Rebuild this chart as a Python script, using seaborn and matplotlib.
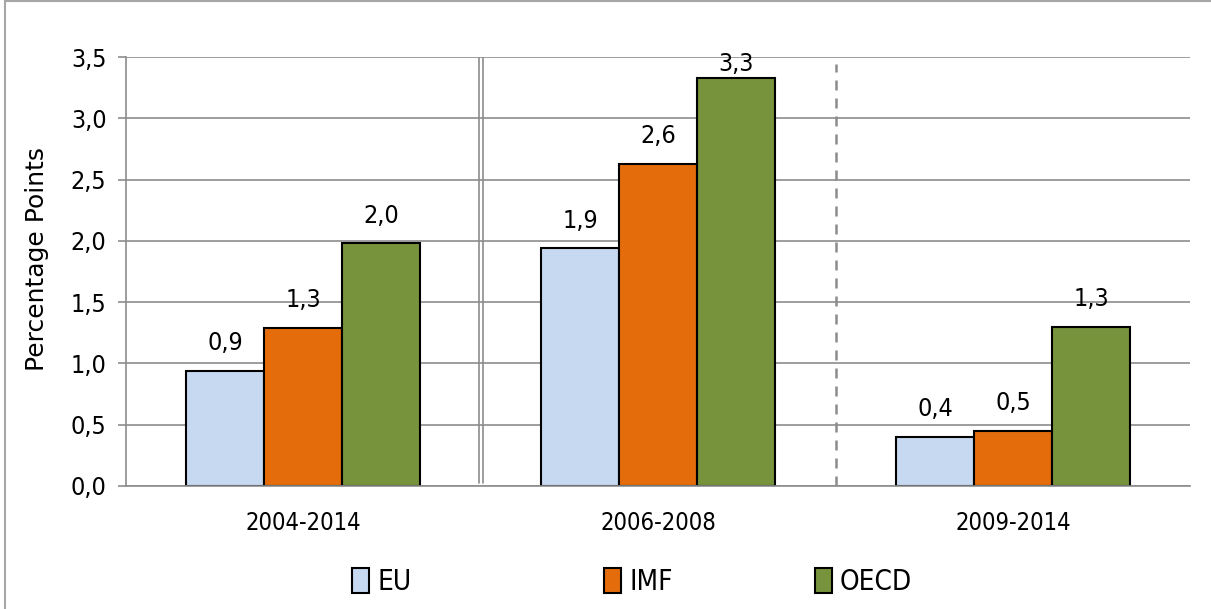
import matplotlib
matplotlib.use("Agg")
import matplotlib.pyplot as plt
import matplotlib.patches as mpatches
from matplotlib.font_manager import FontProperties
from matplotlib.lines import Line2D
import seaborn as sns
import pandas as pd

# данные с картинки
periods = ["2004-2014", "2006-2008", "2009-2014"]
sources = ["EU", "IMF", "OECD"]
eu_values = [0.94, 1.94, 0.40]
imf_values = [1.29, 2.63, 0.45]
oecd_values = [1.98, 3.33, 1.30]
eu_labels = ["0,9", "1,9", "0,4"]
imf_labels = ["1,3", "2,6", "0,5"]
oecd_labels = ["2,0", "3,3", "1,3"]
y_ticks = [0.0, 0.5, 1.0, 1.5, 2.0, 2.5, 3.0, 3.5]

colors = {"EU": "#C6D9F1", "IMF": "#E46C0A", "OECD": "#77933C"}
grid_color = "#8C8C8C"
legend_x = [352, 604, 815]  # левый край маркеров легенды, px

df = pd.DataFrame({
    "period": periods * 3,
    "source": [s for s in sources for _ in periods],
    "value": eu_values + imf_values + oecd_values,
})
bar_labels = {"EU": eu_labels, "IMF": imf_labels, "OECD": oecd_labels}

sns.set_theme(style="white")
plt.rcParams["font.family"] = ["DejaVu Sans"]
plt.rcParams["font.stretch"] = "condensed"
plt.rcParams["text.color"] = "black"
plt.rcParams["axes.labelcolor"] = "black"
plt.rcParams["xtick.labelcolor"] = "black"
plt.rcParams["ytick.labelcolor"] = "black"

W, H = 1211, 609
fig = plt.figure(figsize=(W / 100, H / 100), dpi=100)
ax = fig.add_axes([0.104, 0.202, 0.879, 0.704])

sns.barplot(data=df, x="period", y="value", hue="source", order=periods,
            hue_order=sources, palette=colors, width=0.66, saturation=1,
            edgecolor="black", linewidth=1.5, legend=False, ax=ax)

ax.set_xlim(-0.5, 2.5)
ax.set_ylim(0, 3.5)
ax.set_yticks(y_ticks)
ax.set_yticklabels([f"{t:.1f}".replace(".", ",") for t in y_ticks], fontsize=18)
ax.set_xticks([-0.5, 0.5, 1.5, 2.5], minor=True)
ax.tick_params(axis="x", which="major", length=0, pad=18, labelsize=17)
ax.tick_params(axis="x", which="minor", length=8, width=1.2, color=grid_color)
ax.tick_params(axis="y", length=6, width=1.2, color=grid_color, pad=8, left=True)
ax.set_xlabel("")

ax.yaxis.grid(True, color=grid_color, linewidth=1.2)
ax.set_axisbelow(True)
for side in ["top", "right"]:
    ax.spines[side].set_visible(False)
for side in ["left", "bottom"]:
    ax.spines[side].set_color(grid_color)
    ax.spines[side].set_linewidth(1.2)

# разделители групп
ax.axvline(0.494, ymin=0.008, ymax=1, color=grid_color, linewidth=1.2)
ax.axvline(0.507, ymin=0.008, ymax=1, color=grid_color, linewidth=1.2)
ax.axvline(1.5, ymin=0, ymax=0.985, color=grid_color, linewidth=1.8,
           linestyle=(0, (4, 3.2)))

# подписи над столбцами
for container, source in zip(ax.containers, sources):
    for bar, text in zip(container, bar_labels[source]):
        x = bar.get_x() + bar.get_width() / 2
        h = bar.get_height()
        ax.text(x, min(h + 0.17, 3.39), text, ha="center", va="baseline",
                fontsize=18)

ylabel_font = FontProperties(family="DejaVu Sans", stretch="normal", size=18)
ax.set_ylabel("Percentage Points", fontproperties=ylabel_font, color="black")
ax.yaxis.set_label_coords(-0.072, 0.53)

# легенда: по одной записи, чтобы расставить как в оригинале
for s, lx in zip(sources, legend_x):
    handle = mpatches.Patch(facecolor=colors[s], edgecolor="black", linewidth=1.5)
    fig.legend([handle], [s], loc="center left", bbox_to_anchor=(lx / W, 0.044),
               frameon=False, fontsize=20, handlelength=0.6, handleheight=1.0,
               handletextpad=0.3, borderpad=0, borderaxespad=0)

# рамка слева и сверху
fig.add_artist(Line2D([0.004, 0.004], [0, 1], transform=fig.transFigure,
                      color="#A6A6A6", linewidth=1.5))
fig.add_artist(Line2D([0.004, 1], [0.998, 0.998], transform=fig.transFigure,
                      color="#A6A6A6", linewidth=1.5))

fig.savefig("out.png", dpi=100)
